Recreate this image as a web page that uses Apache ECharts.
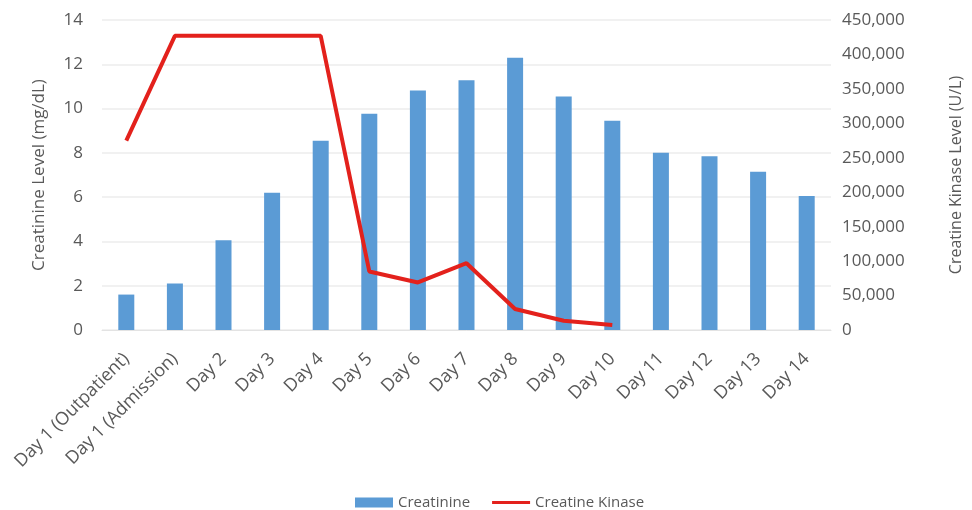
<!DOCTYPE html>
<html>
<head>
<meta charset="utf-8">
<script src="https://cdn.jsdelivr.net/npm/echarts@6/dist/echarts.min.js"></script>
<style>html,body{margin:0;padding:0;background:#fff}#c{width:972px;height:510px}</style>
</head>
<body>
<div id="c"></div>
<script>
const categories = ['Day 1 (Outpatient)', 'Day 1 (Admission)', 'Day 2', 'Day 3', 'Day 4', 'Day 5', 'Day 6', 'Day 7', 'Day 8', 'Day 9', 'Day 10', 'Day 11', 'Day 12', 'Day 13', 'Day 14'];
const creatinine = [1.6, 2.1, 4.05, 6.2, 8.55, 9.77, 10.82, 11.28, 12.3, 10.55, 9.45, 8.0, 7.85, 7.15, 6.05];
const creatineKinase = [275000, 427000, 427000, 427000, 427000, 85000, 69000, 97000, 30500, 13500, 7300, null, null, null, null];
const leftTicks = { min: 0, max: 14, interval: 2 };
const rightTicks = { min: 0, max: 450000, interval: 50000 };

const txt = '#595959';
const font = 'Open Sans';
const lineIcon = 'path://M0,0 L0,0 M0,3.5 L40,3.5 L40,6.5 L0,6.5 Z M40,10 L40,10';
const chart = echarts.init(document.getElementById('c'), null, { renderer: 'canvas' });
chart.setOption({
  animation: false,
  backgroundColor: '#fff',
  textStyle: { fontFamily: font, color: txt },
  grid: { left: 102, right: 136, top: 20, bottom: 180, containLabel: false },
  legend: {
    top: 490,
    left: 350,
    itemWidth: 38,
    itemHeight: 10,
    itemGap: 22,
    textStyle: { fontFamily: font, fontSize: 15, color: txt },
    data: [{ name: 'Creatinine', icon: 'rect' }, { name: 'Creatine Kinase', icon: lineIcon }]
  },
  xAxis: {
    type: 'category',
    data: categories,
    axisLine: { show: true, lineStyle: { color: '#e3e3e3', width: 1 } },
    axisTick: { show: false },
    axisLabel: { interval: 0, rotate: 45, margin: 26, fontSize: 18, color: txt, fontFamily: font }
  },
  yAxis: [
    {
      type: 'value',
      min: leftTicks.min, max: leftTicks.max, interval: leftTicks.interval,
      name: 'Creatinine Level (mg/dL)',
      nameLocation: 'middle', nameGap: 54, nameRotate: 90,
      nameTextStyle: { fontSize: 17, color: txt, fontFamily: font },
      axisLine: { show: false }, axisTick: { show: false },
      axisLabel: { fontSize: 17, color: txt, margin: 19, fontFamily: font },
      splitLine: { show: true, lineStyle: { color: '#ececec', width: 1.5 } }
    },
    {
      type: 'value',
      min: rightTicks.min, max: rightTicks.max, interval: rightTicks.interval,
      name: 'Creatine Kinase Level (U/L)',
      nameLocation: 'middle', nameGap: 117, nameRotate: 90,
      nameTextStyle: { fontSize: 16, color: txt, fontFamily: font },
      axisLine: { show: false }, axisTick: { show: false },
      axisLabel: {
        fontSize: 17, color: txt, margin: 11, fontFamily: font,
        formatter: v => v.toLocaleString('en-US')
      },
      splitLine: { show: false }
    }
  ],
  series: [
    {
      name: 'Creatinine', type: 'bar', yAxisIndex: 0,
      data: creatinine, barWidth: 16,
      itemStyle: { color: '#5b9bd5' }
    },
    {
      name: 'Creatine Kinase', type: 'line', yAxisIndex: 1,
      data: creatineKinase, symbol: 'none', connectNulls: false,
      lineStyle: { color: '#e3211c', width: 4 },
      itemStyle: { color: '#e3211c' }
    }
  ]
});
</script>
</body>
</html>
